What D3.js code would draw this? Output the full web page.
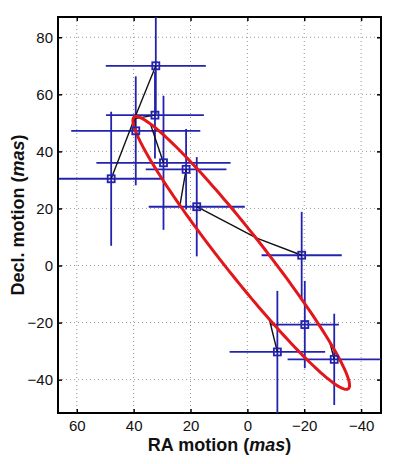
<!DOCTYPE html>
<html>
<head>
<meta charset="utf-8">
<script src="https://cdn.jsdelivr.net/npm/d3@7"></script>
<style>
    body { margin: 0; background: #fff; }
    .tick text { font-family: "Liberation Sans", Arial, Helvetica, sans-serif; font-size: 15px; fill: #111; }
    .axis-label { font-family: "Liberation Sans", Arial, Helvetica, sans-serif; font-size: 18px; font-weight: bold; fill: #111; }
</style>
</head>
<body>
<svg class="visSVG"></svg>
<script>
// observed positions (mas) and their errors
const raX    = [47.9, 39.25, 32.2, 32.5, 29.5, 21.55, 17.8, -19.1, -20.2, -10.55, -30.55];
const decY   = [30.4, 47.2, 70.0, 52.7, 36.0, 33.7, 20.6, 3.6, -20.7, -30.3, -32.9];
const raErr  = [18.4, 22.7, 17.6, 17.2, 23.6, 14.2, 16.9, 14.1, 12.0, 16.8, 16.4];
const decErr = [23.5, 19.1, 17.1, 15.2, 23.5, 14.1, 17.4, 15.2, 15.3, 21.4, 16.0];

// model position on the ellipse for each observation (null = no residual line)
const modelX = [39.7, 39.7, 39.7, 39.7, 34.2, 23.7, -3.3, -3.3, null, -7.8, -28.9];
const modelY = [51.5, 51.5, 51.5, 51.5, 49.9, 21.2, 9.6, 9.6, null, -19.2, -26.6];

// parallax ellipse: centre, semi axes, tilt (deg)
const ellipseCenter = [2.15, 4.4];
const ellipseAxes = [60.7, 7.3];
const ellipseAngle = 51.65;

const xTicks = [60, 40, 20, 0, -20, -40];
const yTicks = [-40, -20, 0, 20, 40, 60, 80];
const xDomain = [66.6, -47.0];
const yDomain = [-51.7, 87.1];

const svgWidth = 397;
const svgHeight = 464;

var margin = { top: 17, right: 16, bottom: 51, left: 58 };
var innerWidth = svgWidth - margin.left - margin.right;
var innerHeight = svgHeight - margin.top - margin.bottom;

const blue = "#2323b0";

const svg = d3.select('.visSVG')
    .attr("width", svgWidth)
    .attr("height", svgHeight);

const graph = svg.append("g")
    .attr("transform", "translate(" + margin.left + "," + margin.top + ")");

const xScale = d3.scaleLinear().domain(xDomain).range([0, innerWidth]);
const yScale = d3.scaleLinear().domain(yDomain).range([innerHeight, 0]);

// GRID
graph.append("g").selectAll("line")
    .data(xTicks).enter().append("line")
        .attr("x1", d => xScale(d)).attr("x2", d => xScale(d))
        .attr("y1", 0).attr("y2", innerHeight)
        .attr("stroke", "#999").attr("stroke-width", 1)
        .attr("stroke-dasharray", "1,3");
graph.append("g").selectAll("line")
    .data(yTicks).enter().append("line")
        .attr("y1", d => yScale(d)).attr("y2", d => yScale(d))
        .attr("x1", 0).attr("x2", innerWidth)
        .attr("stroke", "#999").attr("stroke-width", 1)
        .attr("stroke-dasharray", "1,3");

// AXES (ticks inside, box on)
function styleAxis(g) {
    g.select(".domain").remove();
    g.selectAll(".tick line").attr("stroke", "#000").attr("stroke-width", 1.5);
}
graph.append("g")
    .attr("transform", "translate(0," + innerHeight + ")")
    .call(d3.axisBottom(xScale).tickValues(xTicks).tickSize(-4).tickPadding(7))
    .call(styleAxis);
graph.append("g")
    .call(d3.axisLeft(yScale).tickValues(yTicks).tickSize(-4).tickPadding(5))
    .call(styleAxis);
graph.append("g")
    .call(d3.axisTop(xScale).tickValues(xTicks).tickSize(-4))
    .call(styleAxis)
    .call(g => g.selectAll("text").remove());
graph.append("g")
    .attr("transform", "translate(" + innerWidth + ",0)")
    .call(d3.axisRight(yScale).tickValues(yTicks).tickSize(-4))
    .call(styleAxis)
    .call(g => g.selectAll("text").remove());

graph.append("rect")
    .attr("width", innerWidth).attr("height", innerHeight)
    .attr("fill", "none").attr("stroke", "#000").attr("stroke-width", 2);

var points = raX.map(function (x, i) {
    return { x: x, y: decY[i], ex: raErr[i], ey: decErr[i], mx: modelX[i], my: modelY[i] };
});

// ERROR BARS
var bars = graph.append("g").attr("stroke", blue).attr("stroke-width", 1.8);
bars.selectAll(".hbar").data(points).enter().append("line")
    .attr("class", "hbar")
    .attr("x1", d => xScale(d.x - d.ex)).attr("x2", d => xScale(d.x + d.ex))
    .attr("y1", d => yScale(d.y)).attr("y2", d => yScale(d.y));
bars.selectAll(".vbar").data(points).enter().append("line")
    .attr("class", "vbar")
    .attr("x1", d => xScale(d.x)).attr("x2", d => xScale(d.x))
    .attr("y1", d => yScale(d.y - d.ey)).attr("y2", d => yScale(d.y + d.ey));

// RESIDUAL LINES
graph.append("g").selectAll("line")
    .data(points.filter(d => d.mx !== null)).enter().append("line")
        .attr("x1", d => xScale(d.x)).attr("y1", d => yScale(d.y))
        .attr("x2", d => xScale(d.mx)).attr("y2", d => yScale(d.my))
        .attr("stroke", "#111").attr("stroke-width", 1.4);

// ELLIPSE
var rot = ellipseAngle * Math.PI / 180;
var ellipsePts = d3.range(0, 361, 2).map(function (deg) {
    var t = deg * Math.PI / 180;
    var u = ellipseAxes[0] * Math.cos(t), v = ellipseAxes[1] * Math.sin(t);
    return [ellipseCenter[0] + u * Math.cos(rot) + v * Math.sin(rot),
            ellipseCenter[1] + u * Math.sin(rot) - v * Math.cos(rot)];
});
graph.append("path")
    .datum(ellipsePts)
    .attr("d", d3.line().x(d => xScale(d[0])).y(d => yScale(d[1])).curve(d3.curveLinearClosed))
    .attr("fill", "none").attr("stroke", "#e3161b").attr("stroke-width", 3);

// MARKERS
graph.append("g").selectAll("rect")
    .data(points).enter().append("rect")
        .attr("x", d => xScale(d.x) - 3.5).attr("y", d => yScale(d.y) - 3.5)
        .attr("width", 7).attr("height", 7)
        .attr("fill", "none").attr("stroke", blue).attr("stroke-width", 1.8);

// AXIS LABELS
var xl = graph.append("text")
    .attr("class", "axis-label")
    .attr("x", innerWidth / 2).attr("y", innerHeight + 38)
    .attr("text-anchor", "middle");
xl.append("tspan").text("RA motion (");
xl.append("tspan").attr("font-style", "italic").text("mas");
xl.append("tspan").text(")");

var yl = graph.append("text")
    .attr("class", "axis-label")
    .attr("transform", "rotate(-90)")
    .attr("x", -innerHeight / 2).attr("y", 24 - margin.left)
    .attr("text-anchor", "middle");
yl.append("tspan").text("Decl. motion (");
yl.append("tspan").attr("font-style", "italic").text("mas");
yl.append("tspan").text(")");
</script>
</body>
</html>
